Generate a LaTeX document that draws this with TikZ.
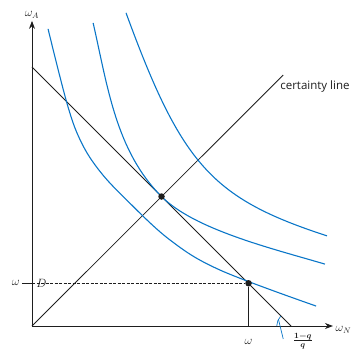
\documentclass[tikz,border=0pt]{standalone}
\usepackage{amsmath}
\usepackage{fontspec}
\setsansfont{Open Sans}
\usepackage{tikz}
\usetikzlibrary{arrows.meta, positioning, calc}
\definecolor{curveblue}{RGB}{10, 118, 200}
\definecolor{inkgray}{RGB}{30, 30, 30}

\begin{document}
\begin{tikzpicture}[x=25.9pt, y=25.9pt,
      axis/.style={-{Stealth[length=8pt, width=6pt]}, inkgray, line width=0.8pt},
      guide/.style={inkgray, line width=0.8pt},
      indiff/.style={curveblue, line width=1.1pt},
      dot/.style={circle, fill=inkgray, inner sep=0pt, minimum size=6.5pt},
      lbl/.style={font=\fontsize{12}{14}\selectfont, inkgray}
    ]
      \useasboundingbox (-1.2355,-1.004) rectangle (12.625,12.587);

      % axes
      \coordinate (O) at (0,0);
      \coordinate (yend) at (0,11.78);
      \coordinate (xend) at (11.62,0);
      \draw[axis] (O) -- (yend);
      \draw[axis] (O) -- (xend);
      \node[lbl, above=1pt of yend, inner sep=1pt] (wA) {$\omega_A$};
      \node[lbl, anchor=west, inner sep=1pt] (wN) at ([shift={(0.06,-0.14)}]xend) {$\omega_N$};

      % budget line and certainty line
      \coordinate (bA) at (0,10);
      \coordinate (bN) at (10,0);
      \draw[guide] (bA) -- (bN);
      \coordinate (cl) at (9.7,9.69);
      \draw[guide] (O) -- (cl);
      \node[anchor=west, inner sep=0pt, font=\sffamily\fontsize{11.5}{13}\selectfont, inkgray] (cert) at (9.58,9.23) {certainty line};

      % indifference curves
      \draw[indiff] plot[smooth, tension=0.6] coordinates {(0.62,11.47) (1.37,8.53) (1.9,7.1) (2.6,6.0) (3.6,4.92) (5.33,3.32) (7.26,2.16) (10.97,0.77)};
      \draw[indiff] (2.36,11.7) .. controls (2.92,9.26) and (3.23,6.77) .. (5,5)
                    .. controls (6.27,3.73) and (9.20,3.01) .. (11.31,2.39);
      \draw[indiff] (3.63,12.09) .. controls (5.78,6.22) and (6.94,4.93) .. (11.39,3.48);

      % endowment and optimum
      \node[dot] (opt) at (5,5) {};
      \node[dot] (endow) at (8.36,1.65) {};
      \coordinate (ytick) at (0,1.65);
      \coordinate (ytickl) at (-0.39,1.65);
      \coordinate (xfoot) at (8.36,0);
      \draw[guide, dash pattern=on 3pt off 1.5pt] (ytick) -- (endow);
      \draw[guide] (endow) -- (xfoot);
      \draw[guide, line width=0.5pt] (ytickl) -- (ytick);
      \node[lbl, anchor=east, inner sep=2pt] (yw) at (ytickl) {$\omega$};
      \node[lbl, inner sep=0pt] (D) at (0.36,1.65) {$D$};
      \node[lbl, inner sep=0pt] (xw) at (8.36,-0.62) {$\omega$};

      % slope marker
      \draw[curveblue, line width=0.7pt] ($(bN)+(180:0.55)$) arc[start angle=180, end angle=137, radius=0.55];
      \coordinate (arcpt) at ($(bN)+(152:0.55)$);
      \node[font=\fontsize{12}{14}\selectfont\boldmath, inkgray, inner sep=0pt] (slope) at (10.46,-0.58) {$\frac{1-q}{q}$};
      \coordinate (ptr) at (9.7,-0.5);
      \draw[curveblue, line width=0.7pt] (ptr) -- (arcpt);
    \end{tikzpicture}
\end{document}
